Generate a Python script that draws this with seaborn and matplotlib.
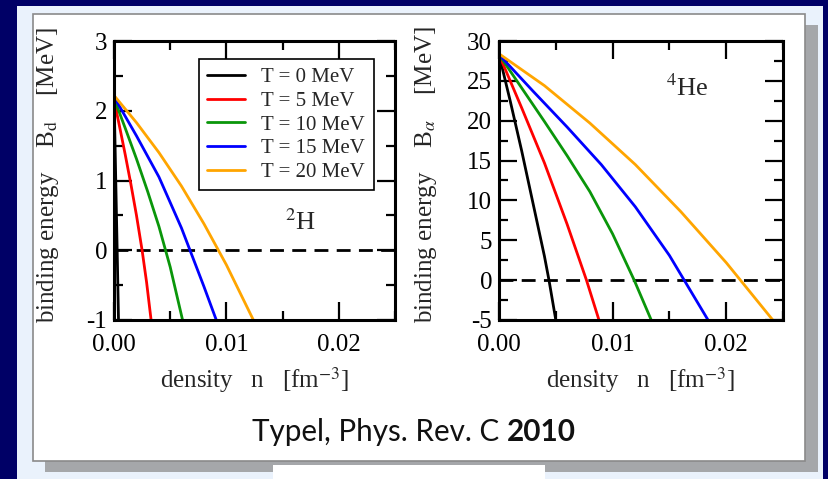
import matplotlib
matplotlib.use("Agg")
import matplotlib.pyplot as plt
from matplotlib.patches import Rectangle
from matplotlib.ticker import MultipleLocator, FormatStrFormatter
import pandas as pd
import seaborn as sns

# temperatures shown in the legend
temps = ["T = 0 MeV", "T = 5 MeV", "T = 10 MeV", "T = 15 MeV", "T = 20 MeV"]
colors = ["black", "red", "#0a960a", "blue", "orange"]

# deuteron binding energy B_d [MeV] vs density n [fm^-3]
d_n_T0 = [0.0, 0.0001, 0.0002, 0.0003, 0.0004]
d_B_T0 = [2.22, 1.45, 0.65, -0.15, -1.0]
d_n_T5 = [0.0, 0.0005, 0.0010, 0.0015, 0.0020, 0.0025, 0.0029, 0.0033]
d_B_T5 = [2.16, 1.77, 1.37, 0.95, 0.50, 0.0, -0.46, -1.0]
d_n_T10 = [0.0, 0.001, 0.002, 0.003, 0.004, 0.005, 0.0061]
d_B_T10 = [2.18, 1.75, 1.31, 0.84, 0.34, -0.24, -1.0]
d_n_T15 = [0.0, 0.002, 0.004, 0.006, 0.008, 0.0091]
d_B_T15 = [2.20, 1.64, 1.05, 0.32, -0.52, -1.0]
d_n_T20 = [0.0, 0.002, 0.004, 0.006, 0.008, 0.010, 0.0124]
d_B_T20 = [2.22, 1.83, 1.40, 0.92, 0.38, -0.21, -1.0]

# alpha binding energy B_alpha [MeV] vs density n [fm^-3]
a_n_T0 = [0.0, 0.001, 0.002, 0.003, 0.004, 0.0044, 0.0050]
a_B_T0 = [28.3, 22.4, 16.2, 9.6, 3.0, 0.0, -5.0]
a_n_T5 = [0.0, 0.002, 0.004, 0.006, 0.0077, 0.0088]
a_B_T5 = [28.3, 21.6, 14.7, 7.0, 0.0, -5.0]
a_n_T10 = [0.0, 0.002, 0.004, 0.006, 0.008, 0.010, 0.0119, 0.0134]
a_B_T10 = [28.3, 24.1, 19.9, 15.6, 11.1, 5.8, 0.0, -5.0]
a_n_T15 = [0.0, 0.003, 0.006, 0.009, 0.012, 0.015, 0.0184]
a_B_T15 = [28.3, 23.7, 19.2, 14.5, 9.2, 3.1, -5.0]
a_n_T20 = [0.0, 0.004, 0.008, 0.012, 0.016, 0.020, 0.0241]
a_B_T20 = [28.4, 24.4, 19.7, 14.5, 8.6, 2.2, -5.0]


def long_table(ns, bs):
    rows = []
    for t, n, b in zip(temps, ns, bs):
        for x, y in zip(n, b):
            rows.append({"T": t, "n": x, "B": y})
    return pd.DataFrame(rows)


deut = long_table([d_n_T0, d_n_T5, d_n_T10, d_n_T15, d_n_T20],
                  [d_B_T0, d_B_T5, d_B_T10, d_B_T15, d_B_T20])
alpha = long_table([a_n_T0, a_n_T5, a_n_T10, a_n_T15, a_n_T20],
                   [a_B_T0, a_B_T5, a_B_T10, a_B_T15, a_B_T20])

sns.set_style("ticks")
plt.rcParams["font.family"] = ["Liberation Serif", "DejaVu Serif"]
plt.rcParams["mathtext.fontset"] = "stix"
plt.rcParams["axes.unicode_minus"] = False

W, H = 829, 479
fig = plt.figure(figsize=(W / 100, H / 100), dpi=100)
fig.patch.set_facecolor("#000066")


def box(x0, y0, x1, y1, **kw):
    # pixel box (top-left origin) -> figure rectangle
    fig.add_artist(Rectangle((x0 / W, 1 - y1 / H), (x1 - x0) / W, (y1 - y0) / H,
                             transform=fig.transFigure, **kw))


box(17, 6, 823, 479, facecolor="#eaf2fc", edgecolor="none", zorder=-10)
box(45, 25, 818, 472, facecolor="#a5a7aa", edgecolor="none", zorder=-9)
box(33, 14, 805, 461, facecolor="white", edgecolor="#8a8a8a", lw=1.2, zorder=-8)
box(273, 465, 545, 479, facecolor="white", edgecolor="none", zorder=-7)

ax1 = fig.add_axes([114 / W, 1 - 320 / H, 281 / W, 279 / H])
ax2 = fig.add_axes([499 / W, 1 - 320 / H, 284 / W, 279 / H])

sns.lineplot(data=deut, x="n", y="B", hue="T", hue_order=temps, palette=colors,
             estimator=None, sort=False, lw=2, ax=ax1)
sns.lineplot(data=alpha, x="n", y="B", hue="T", hue_order=temps, palette=colors,
             estimator=None, sort=False, lw=2, legend=False, ax=ax2)

for ax in (ax1, ax2):
    ax.axhline(0, color="black", lw=2, ls=(0, (5, 3)), zorder=1)
    ax.set_xlim(0, 0.025)
    ax.xaxis.set_major_locator(MultipleLocator(0.01))
    ax.xaxis.set_minor_locator(MultipleLocator(0.005))
    ax.xaxis.set_major_formatter(FormatStrFormatter("%.2f"))
    ax.tick_params(which="both", direction="in", top=True, right=True,
                   width=1.6, labelsize=18, colors="black")
    ax.tick_params(which="major", length=13)
    ax.tick_params(which="minor", length=6.5)
    ax.tick_params(axis="x", pad=10)
    ax.tick_params(axis="y", pad=5)
    for s in ax.spines.values():
        s.set_linewidth(2.2)
        s.set_color("black")
    ax.set_xlabel(r"density   n   [fm$^{-3}$]", fontsize=18)
    ax.xaxis.set_label_coords(0.5, -0.16)

ax1.set_ylim(-1, 3)
ax1.yaxis.set_major_locator(MultipleLocator(1))
ax1.yaxis.set_minor_locator(MultipleLocator(0.5))
ax1.set_ylabel(r"binding energy    B$_{\mathrm{d}}$    [MeV]", fontsize=18)
ax1.yaxis.set_label_coords(-0.19, 0.52)
ax1.text(0.0166, 0.41, r"$^{2}$H", fontsize=19, ha="center", va="center")

ax2.set_ylim(-5, 30)
ax2.yaxis.set_major_locator(MultipleLocator(5))
ax2.yaxis.set_minor_locator(MultipleLocator(2.5))
ax2.set_ylabel(r"binding energy    B$_{\alpha}$    [MeV]", fontsize=18)
ax2.yaxis.set_label_coords(-0.21, 0.52)
ax2.text(0.0166, 24.1, r"$^{4}$He", fontsize=19, ha="center", va="center")

leg = ax1.get_legend()
handles = leg.legend_handles
labels = [t.get_text() for t in leg.get_texts()]
ax1.legend(handles, labels, loc="upper left", bbox_to_anchor=(0.302, 0.935),
           fontsize=15, frameon=True, fancybox=False, framealpha=1,
           edgecolor="black", handlelength=1.8, handletextpad=0.8,
           labelspacing=0.2, borderpad=0.4, borderaxespad=0)
ax1.get_legend().get_frame().set_linewidth(1.2)

cap = fig.text(252 / W, 1 - 446 / H, "Typel, Phys. Rev. C ", fontsize=21.3,
               family="Lato", va="bottom", ha="left", color="#111111")
plt.annotate("2010", xy=(1, 0), xycoords=cap, va="bottom", ha="left",
             fontsize=21.3, family="Lato", weight="bold", color="#111111",
             annotation_clip=False)

fig.savefig("out.png", dpi=100, facecolor=fig.get_facecolor())
